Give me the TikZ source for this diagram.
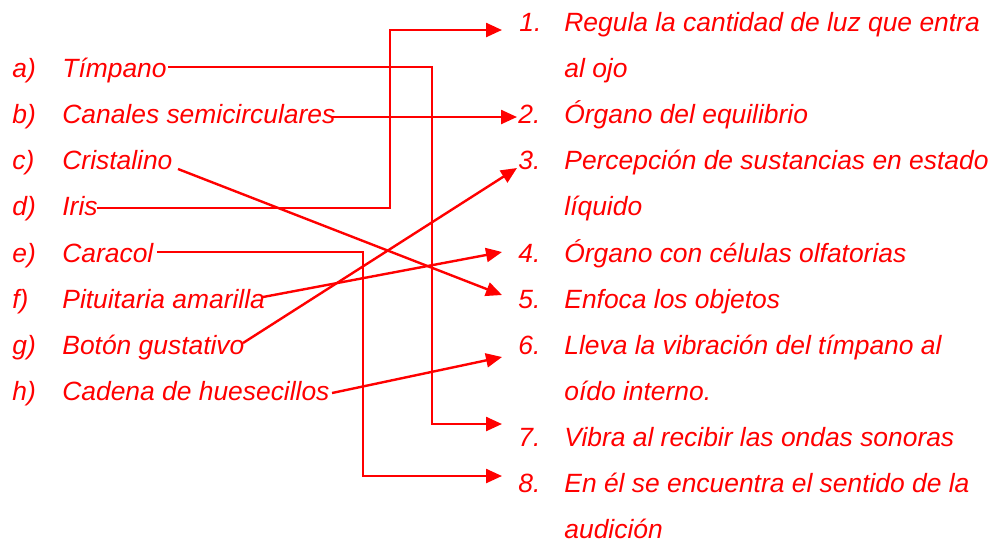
\documentclass[tikz,border=0pt]{standalone}
\usepackage{fontspec}
\setmainfont{Liberation Sans}
\usetikzlibrary{arrows.meta}
\definecolor{pagered}{RGB}{255,0,0}
\tikzset{item node/.style={anchor=base west, inner sep=0pt, text=pagered, font=\fontsize{13.2pt}{15pt}\selectfont\itshape},
  link/.style={draw=pagered, line width=1.2pt},
  arrow link/.style={link, -{Triangle[length=8pt,width=7pt]}},}

\begin{document}
\begin{tikzpicture}[x=0.5pt,y=-0.5pt]
   \useasboundingbox (0,0) rectangle (1000,543);

   % left column
   \node[item node] (la) at (12,77.6)  {a)};
   \node[item node] (lb) at (12,123.7) {b)};
   \node[item node] (lc) at (12,169.8) {c)};
   \node[item node] (ld) at (12,215.9) {d)};
   \node[item node] (le) at (12,262.0) {e)};
   \node[item node] (lf) at (12,308.1) {f)};
   \node[item node] (lg) at (12,354.2) {g)};
   \node[item node] (lh) at (12,400.3) {h)};
   \node[item node] (timpano)    at (62,77.6)  {Tímpano};
   \node[item node] (canales)    at (62,123.7) {Canales semicirculares};
   \node[item node] (cristalino) at (62,169.8) {Cristalino};
   \node[item node] (iris)       at (62,215.9) {Iris};
   \node[item node] (caracol)    at (62,262.0) {Caracol};
   \node[item node] (pituitaria) at (62,308.1) {Pituitaria amarilla};
   \node[item node] (boton)      at (62,354.2) {Botón gustativo};
   \node[item node] (cadena)     at (62,400.3) {Cadena de huesecillos};

   % right column
   \node[item node] (n1) at (519,31.5)  {1.};
   \node[item node] (n2) at (518,123.7) {2.};
   \node[item node] (n3) at (518,169.8) {3.};
   \node[item node] (n4) at (518,262.0) {4.};
   \node[item node] (n5) at (518,308.1) {5.};
   \node[item node] (n6) at (518,354.2) {6.};
   \node[item node] (n7) at (518,446.4) {7.};
   \node[item node] (n8) at (518,492.5) {8.};
   \node[item node] (t1)  at (564,31.5)  {Regula la cantidad de luz que entra};
   \node[item node] (t1b) at (564,77.6)  {al ojo};
   \node[item node] (t2)  at (564,123.7) {Órgano del equilibrio};
   \node[item node] (t3)  at (564,169.8) {Percepción de sustancias en estado};
   \node[item node] (t3b) at (564,215.9) {líquido};
   \node[item node] (t4)  at (564,262.0) {Órgano con células olfatorias};
   \node[item node] (t5)  at (564,308.1) {Enfoca los objetos};
   \node[item node] (t6)  at (564,354.2) {Lleva la vibración del tímpano al};
   \node[item node] (t6b) at (564,400.3) {oído interno.};
   \node[item node] (t7)  at (564,446.4) {Vibra al recibir las ondas sonoras};
   \node[item node] (t8)  at (564,492.5) {En él se encuentra el sentido de la};
   \node[item node] (t8b) at (564,538.6) {audición};

   % connector ends
   \coordinate (sa) at (168,67);   \coordinate (ea) at (502,424);
   \coordinate (sb) at (332,117);  \coordinate (eb) at (517,117);
   \coordinate (sc) at (178,169);  \coordinate (ec) at (502,295);
   \coordinate (sd) at (97,208);   \coordinate (ed) at (502,30);
   \coordinate (se) at (157,252);  \coordinate (ee) at (502,476);
   \coordinate (sf) at (263,297);  \coordinate (ef) at (502,252);
   \coordinate (sg) at (243,343);  \coordinate (eg) at (517,168);
   \coordinate (sh) at (332,393);  \coordinate (eh) at (502,357);

   \draw[arrow link] (sa) -- (432,67) |- (ea);
   \draw[arrow link] (sb) -- (eb);
   \draw[arrow link] (sc) -- (ec);
   \draw[arrow link] (sd) -- (390,208) |- (ed);
   \draw[arrow link] (se) -- (363,252) |- (ee);
   \draw[arrow link] (sf) -- (ef);
   \draw[arrow link] (sg) -- (eg);
   \draw[arrow link] (sh) -- (eh);
\end{tikzpicture}
\end{document}
